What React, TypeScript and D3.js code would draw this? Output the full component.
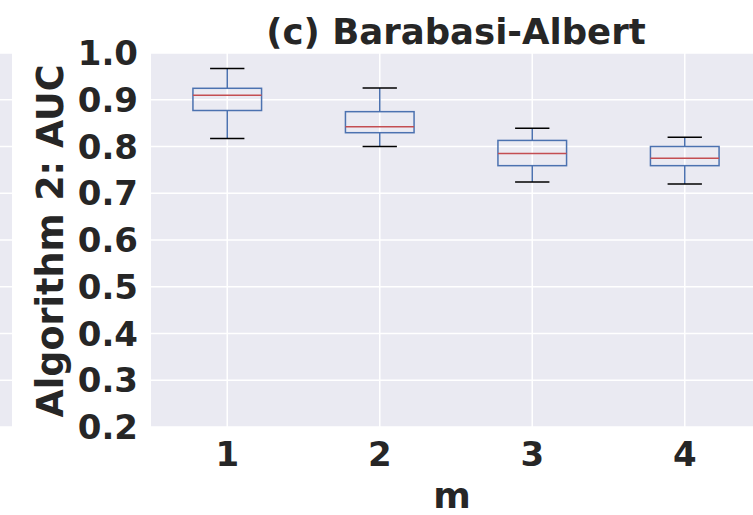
import React from "react";
import * as d3 from "d3";

const categories = ["1", "2", "3", "4"];
const whiskerLow = [0.817, 0.8, 0.724, 0.72];
const q1 = [0.877, 0.8295, 0.759, 0.759];
const medians = [0.9095, 0.842, 0.785, 0.775];
const q3 = [0.9245, 0.8745, 0.813, 0.8];
const whiskerHigh = [0.967, 0.925, 0.839, 0.82];
const yTicks = [0.2, 0.3, 0.4, 0.5, 0.6, 0.7, 0.8, 0.9, 1.0];

const W = 753;
const H = 515;
const FONT = "'DejaVu Sans', sans-serif";

export default function App() {
  const left = 151;
  const right = 761;
  const top = 53;
  const bottom = 427;
  const x = d3.scaleLinear().domain([0.5, 4.5]).range([left, right]);
  const y = d3.scaleLinear().domain([0.2, 1.0]).range([bottom, top]);
  const boxHalf = 0.225;
  const capHalf = 0.1125;
  const blue = "#4C72B0";
  const red = "#C44E52";

  return (
    <svg width={W} height={H} style={{ position: "absolute", left: 0, top: 0 }} fontFamily={FONT}>
      <rect x={0} y={0} width={W} height={H} fill="#ffffff" />
      {/* partial neighbour subplot */}
      <rect x={0} y={top} width={12} height={bottom - top} fill="#EAEAF2" />
      {yTicks.map((t) => (
        <line key={"lg" + t} x1={0} x2={12} y1={y(t)} y2={y(t)} stroke="#fff" strokeWidth={1.5} />
      ))}
      {/* main plot */}
      <rect x={left} y={top} width={right - left} height={bottom - top} fill="#EAEAF2" />
      {yTicks.map((t) => (
        <line key={"g" + t} x1={left} x2={right} y1={y(t)} y2={y(t)} stroke="#fff" strokeWidth={1.5} />
      ))}
      {categories.map((c, i) => (
        <line key={"vg" + c} x1={x(i + 1)} x2={x(i + 1)} y1={top} y2={bottom} stroke="#fff" strokeWidth={1.5} />
      ))}
      {categories.map((c, i) => {
        const cx = x(i + 1);
        const bx0 = x(i + 1 - boxHalf);
        const bx1 = x(i + 1 + boxHalf);
        const cx0 = x(i + 1 - capHalf);
        const cx1 = x(i + 1 + capHalf);
        return (
          <g key={"b" + c}>
            <line x1={cx} x2={cx} y1={y(q3[i])} y2={y(whiskerHigh[i])} stroke={blue} strokeWidth={1.5} />
            <line x1={cx} x2={cx} y1={y(q1[i])} y2={y(whiskerLow[i])} stroke={blue} strokeWidth={1.5} />
            <line x1={cx0} x2={cx1} y1={y(whiskerHigh[i])} y2={y(whiskerHigh[i])} stroke="#000" strokeWidth={1.5} />
            <line x1={cx0} x2={cx1} y1={y(whiskerLow[i])} y2={y(whiskerLow[i])} stroke="#000" strokeWidth={1.5} />
            <rect x={bx0} y={y(q3[i])} width={bx1 - bx0} height={y(q1[i]) - y(q3[i])} fill="none" stroke={blue} strokeWidth={1.5} />
            <line x1={bx0} x2={bx1} y1={y(medians[i])} y2={y(medians[i])} stroke={red} strokeWidth={1.5} />
          </g>
        );
      })}
      {yTicks.map((t) => (
        <text key={"yt" + t} x={138} y={y(t)} dy="0.36em" textAnchor="end" fontSize={34} fontWeight="bold" fill="#262626">
          {d3.format(".1f")(t)}
        </text>
      ))}
      {categories.map((c, i) => (
        <text key={"xt" + c} x={x(i + 1)} y={466} textAnchor="middle" fontSize={34} fontWeight="bold" fill="#262626">
          {c}
        </text>
      ))}
      <text x={(left + right) / 2 - 4} y={508} textAnchor="middle" fontSize={36} fontWeight="bold" fill="#262626">
        m
      </text>
      <text
        transform={`translate(63, ${(top + bottom) / 2 + 1}) rotate(-90)`}
        textAnchor="middle"
        fontSize={36.5}
        fontWeight="bold"
        fill="#262626"
      >
        Algorithm 2: AUC
      </text>
      <text x={456} y={44} textAnchor="middle" fontSize={35.5} fontWeight="bold" fill="#262626">
        (c) Barabasi-Albert
      </text>
    </svg>
  );
}
